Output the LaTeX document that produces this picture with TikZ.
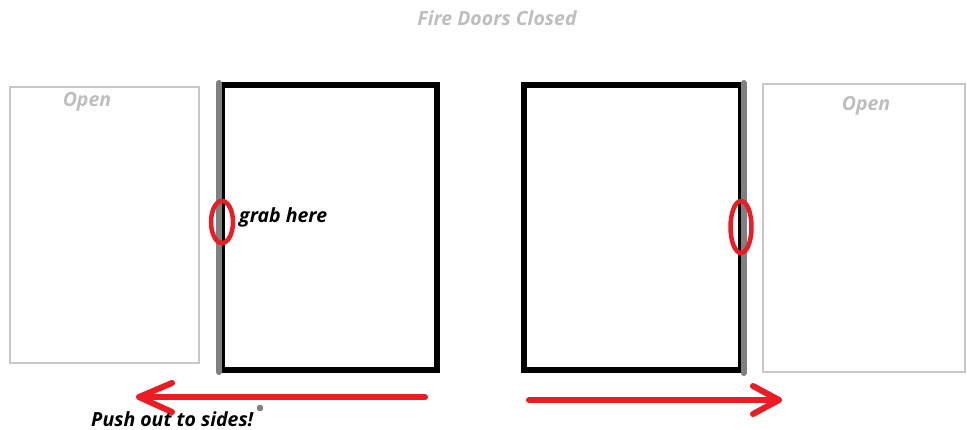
\documentclass[tikz,border=0pt]{standalone}
\usepackage{fontspec}
\setmainfont{Open Sans}
\definecolor{pred}{HTML}{ED1C24}
\definecolor{lgray}{HTML}{C8C8C8}
\definecolor{tgray}{HTML}{BEBEBE}
\definecolor{hgray}{HTML}{808080}
\begin{document}
\begin{tikzpicture}[x=1pt,y=-1pt,
  openbox/.style={draw=lgray,line width=1.3pt},
  doorbox/.style={draw=black,line width=6pt},
  hinge/.style={draw=hgray,line width=6pt,line cap=round},
  grip/.style={draw=pred,line width=4.5pt},
  pusharrow/.style={draw=pred,line width=6pt,line cap=round,line join=round},
  gtext/.style={text=tgray,font=\bfseries\itshape\fontsize{19.5}{21}\selectfont,inner sep=0pt},
  btext/.style={text=black,font=\bfseries\itshape\fontsize{19.5}{21}\selectfont,inner sep=0pt}]
\useasboundingbox (0,0) rectangle (967,429);
% title
\node[gtext] (title) at (497,18) {Fire Doors Closed};
% open boxes
\draw[openbox] (10,87) rectangle (199,363);
\node[gtext] (openl) at (87,102) {Open};
\draw[openbox] (763,84) rectangle (965,372);
\node[gtext] (openr) at (866,106) {Open};
% doors
\draw[doorbox] (222,85) rectangle (437,370);
\draw[hinge] (219,83) -- (219,372);
\draw[doorbox] (524,85) rectangle (741,370);
\draw[hinge] (743.5,83) -- (743.5,373);
% grips
\draw[grip] (222,222) ellipse [x radius=11, y radius=21];
\draw[grip] (741,227) ellipse [x radius=10.5, y radius=26];
\node[btext,anchor=base west] (grab) at (239,222) {grab here};
% arrows
\coordinate (la) at (425,397);
\coordinate (lt) at (139,397);
\draw[pusharrow] (la) -- (lt);
\draw[pusharrow] (172,383) -- (lt) -- (172,412);
\coordinate (ra) at (529,400);
\coordinate (rt) at (779,400);
\draw[pusharrow] (ra) -- (rt);
\draw[pusharrow] (753,386) -- (rt) -- (753,414);
\fill[hgray] (260,408) circle (3.3);
\node[btext,anchor=base west] (push) at (91,426) {Push out to sides!};
\end{tikzpicture}
\end{document}
